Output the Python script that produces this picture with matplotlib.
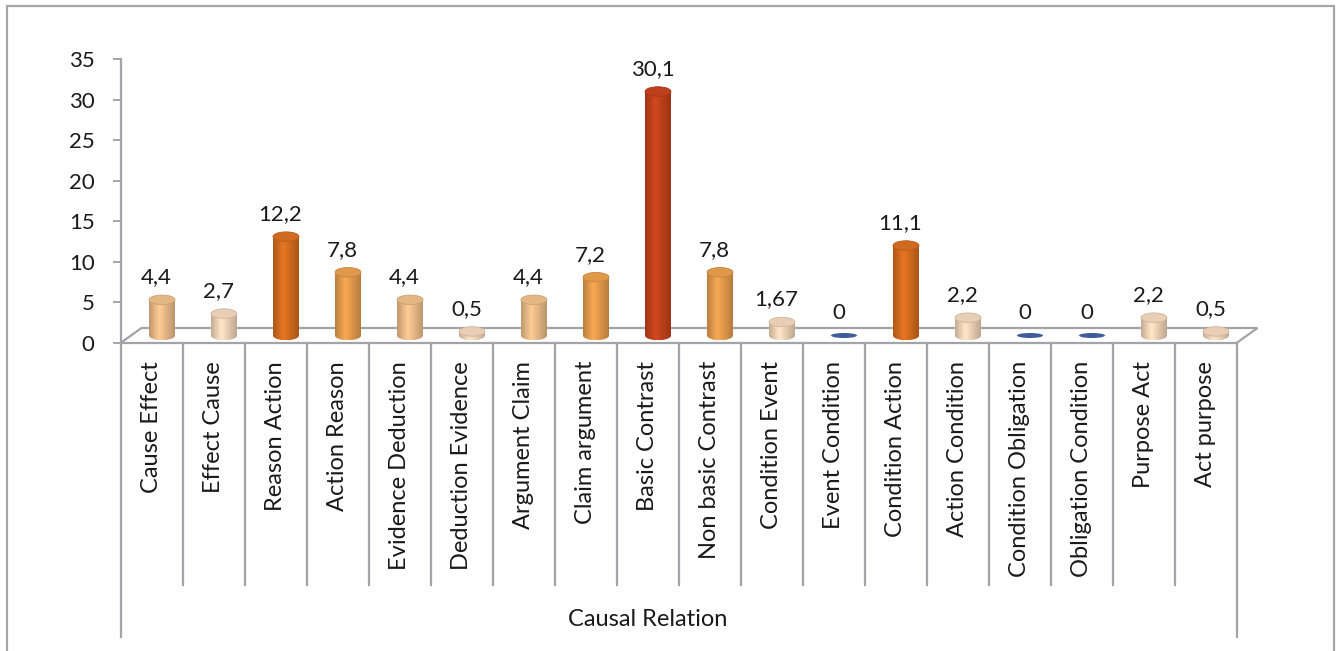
import numpy as np
import matplotlib.pyplot as plt
from matplotlib.patches import Ellipse, Polygon, Rectangle, PathPatch
from matplotlib.path import Path

# ---------------------------------------------------------------
# data
# ---------------------------------------------------------------
categories = [
    "Cause Effect", "Effect Cause", "Reason Action", "Action Reason",
    "Evidence Deduction", "Deduction Evidence", "Argument Claim",
    "Claim argument", "Basic Contrast", "Non basic Contrast",
    "Condition Event", "Event Condition", "Condition Action",
    "Action Condition", "Condition Obligation", "Obligation Condition",
    "Purpose Act", "Act purpose",
]
values = [4.4, 2.7, 12.2, 7.8, 4.4, 0.5, 4.4, 7.2, 30.1, 7.8,
          1.67, 0, 11.1, 2.2, 0, 0, 2.2, 0.5]
y_ticks = [0, 5, 10, 15, 20, 25, 30, 35]
x_title = "Causal Relation"

plt.rcParams["font.family"] = ["Lato", "DejaVu Sans"]
num_size = 16
text_size = 17

W, H = 1342, 651
fig = plt.figure(figsize=(W / 100, H / 100), dpi=100)

# plot area in pixels: x axis from 120.5 to 1236.5, value 0 at y=343, 35 at y=59.3
left_px, right_px = 120.5, 1236.5
zero_px, top_px = 343.0, 59.3
ax = fig.add_axes([left_px / W, (H - zero_px) / H,
                   (right_px - left_px) / W, (zero_px - top_px) / H])
n = len(categories)
ax.set_xlim(0, n)
ax.set_ylim(0, 35)

px_x = (right_px - left_px) / n       # pixels per category
px_y = (zero_px - top_px) / 35        # pixels per value unit

def ux(p):
    return p / px_x

def uy(p):
    return p / px_y

# 3d depth of the floor
depth_x, depth_y = ux(21), uy(15)
grey = "#A3A3A8"

def bar_colour(v):
    if v == 0:
        return "#3E5C9A"
    if v < 4:
        return "#F2D7BA"
    if v < 6:
        return "#EEBE8A"
    if v < 10:
        return "#E99E4E"
    if v < 20:
        return "#D86E1F"
    return "#C4431C"

# floor
floor = Polygon([(0, 0), (n, 0), (n + depth_x, depth_y), (depth_x, depth_y)],
                closed=True, fc="white", ec=grey, lw=1.6, clip_on=False, zorder=1)
ax.add_patch(floor)

# cylinders
bar_w = ux(26)
ell_h = uy(9.5)
a = bar_w / 2
b = ell_h / 2
shade = np.concatenate([np.linspace(0.80, 1.07, 40), np.linspace(1.07, 0.78, 60)])

for i, v in enumerate(values):
    c = np.array(plt.matplotlib.colors.to_rgb(bar_colour(v)))
    cx = i + 0.5 + depth_x / 2
    base = depth_y / 2
    if v == 0:
        ax.add_patch(Ellipse((cx, base), bar_w, uy(5), fc=c, ec="none",
                             zorder=3, clip_on=False))
        continue
    top = base + v
    t = np.linspace(np.pi, 2 * np.pi, 40)
    verts = [(cx - a, top), (cx - a, base)]
    verts += list(zip(cx + a * np.cos(t), base + b * np.sin(t)))
    verts += [(cx + a, base), (cx + a, top), (cx - a, top)]
    path = Path(verts)
    body = PathPatch(path, fc="none", ec="none", zorder=3, clip_on=False)
    ax.add_patch(body)
    img = np.clip(c[None, None, :] * shade[None, :, None], 0, 1)
    im = ax.imshow(img, extent=(cx - a, cx + a, base - b, top), aspect="auto",
                   origin="lower", zorder=3, interpolation="bilinear")
    im.set_clip_path(body)
    top_c = np.clip(c * 0.96, 0, 1)
    ax.add_patch(Ellipse((cx, top), bar_w, ell_h, fc=top_c,
                         ec=np.clip(c * 0.85, 0, 1), lw=0.6, zorder=4,
                         clip_on=False))

ax.set_xlim(0, n)
ax.set_ylim(0, 35)

# value labels
for i, v in enumerate(values):
    ax.annotate(f"{v:g}".replace(".", ","), (i + 0.58, v),
                xytext=(0, 24 * 0.72), textcoords="offset points",
                ha="center", va="baseline", fontsize=num_size, color="#1A1A1A",
                zorder=5, annotation_clip=False)

# axes styling
for s in ax.spines.values():
    s.set_visible(False)
ax.patch.set_alpha(0)
ax.set_xticks([])
ax.set_yticks(y_ticks)
ax.tick_params(axis="y", length=8 * 0.72, width=1.4, color=grey,
               pad=18 * 0.72, labelsize=num_size, labelcolor="#1A1A1A")

# vertical axis line and category dividers
inner_end = -uy(585 - zero_px)
outer_end = -uy(637 - zero_px)
ax.plot([0, 0], [35, outer_end], color=grey, lw=1.6, clip_on=False, zorder=2)
ax.plot([n, n], [0, outer_end], color=grey, lw=1.6, clip_on=False, zorder=2)
for i in range(1, n):
    ax.plot([i, i], [0, inner_end], color=grey, lw=1.6, clip_on=False, zorder=2)

# category labels
for i, name in enumerate(categories):
    ax.text(i + 0.5, -uy(18), name, rotation=90, ha="center", va="top",
            fontsize=text_size, color="#1A1A1A", clip_on=False)

ax.text(n / 2 - 0.5, -uy(620 - zero_px), x_title, ha="center", va="center",
        fontsize=text_size, color="#1A1A1A", clip_on=False)

# outer frame
fig.add_artist(Rectangle((7 / W, -0.02), (1334 - 7) / W, (H - 6) / H + 0.02,
                         transform=fig.transFigure, fill=False, ec="#A6A6A6",
                         lw=1.6))

fig.savefig("out.png", dpi=100)
